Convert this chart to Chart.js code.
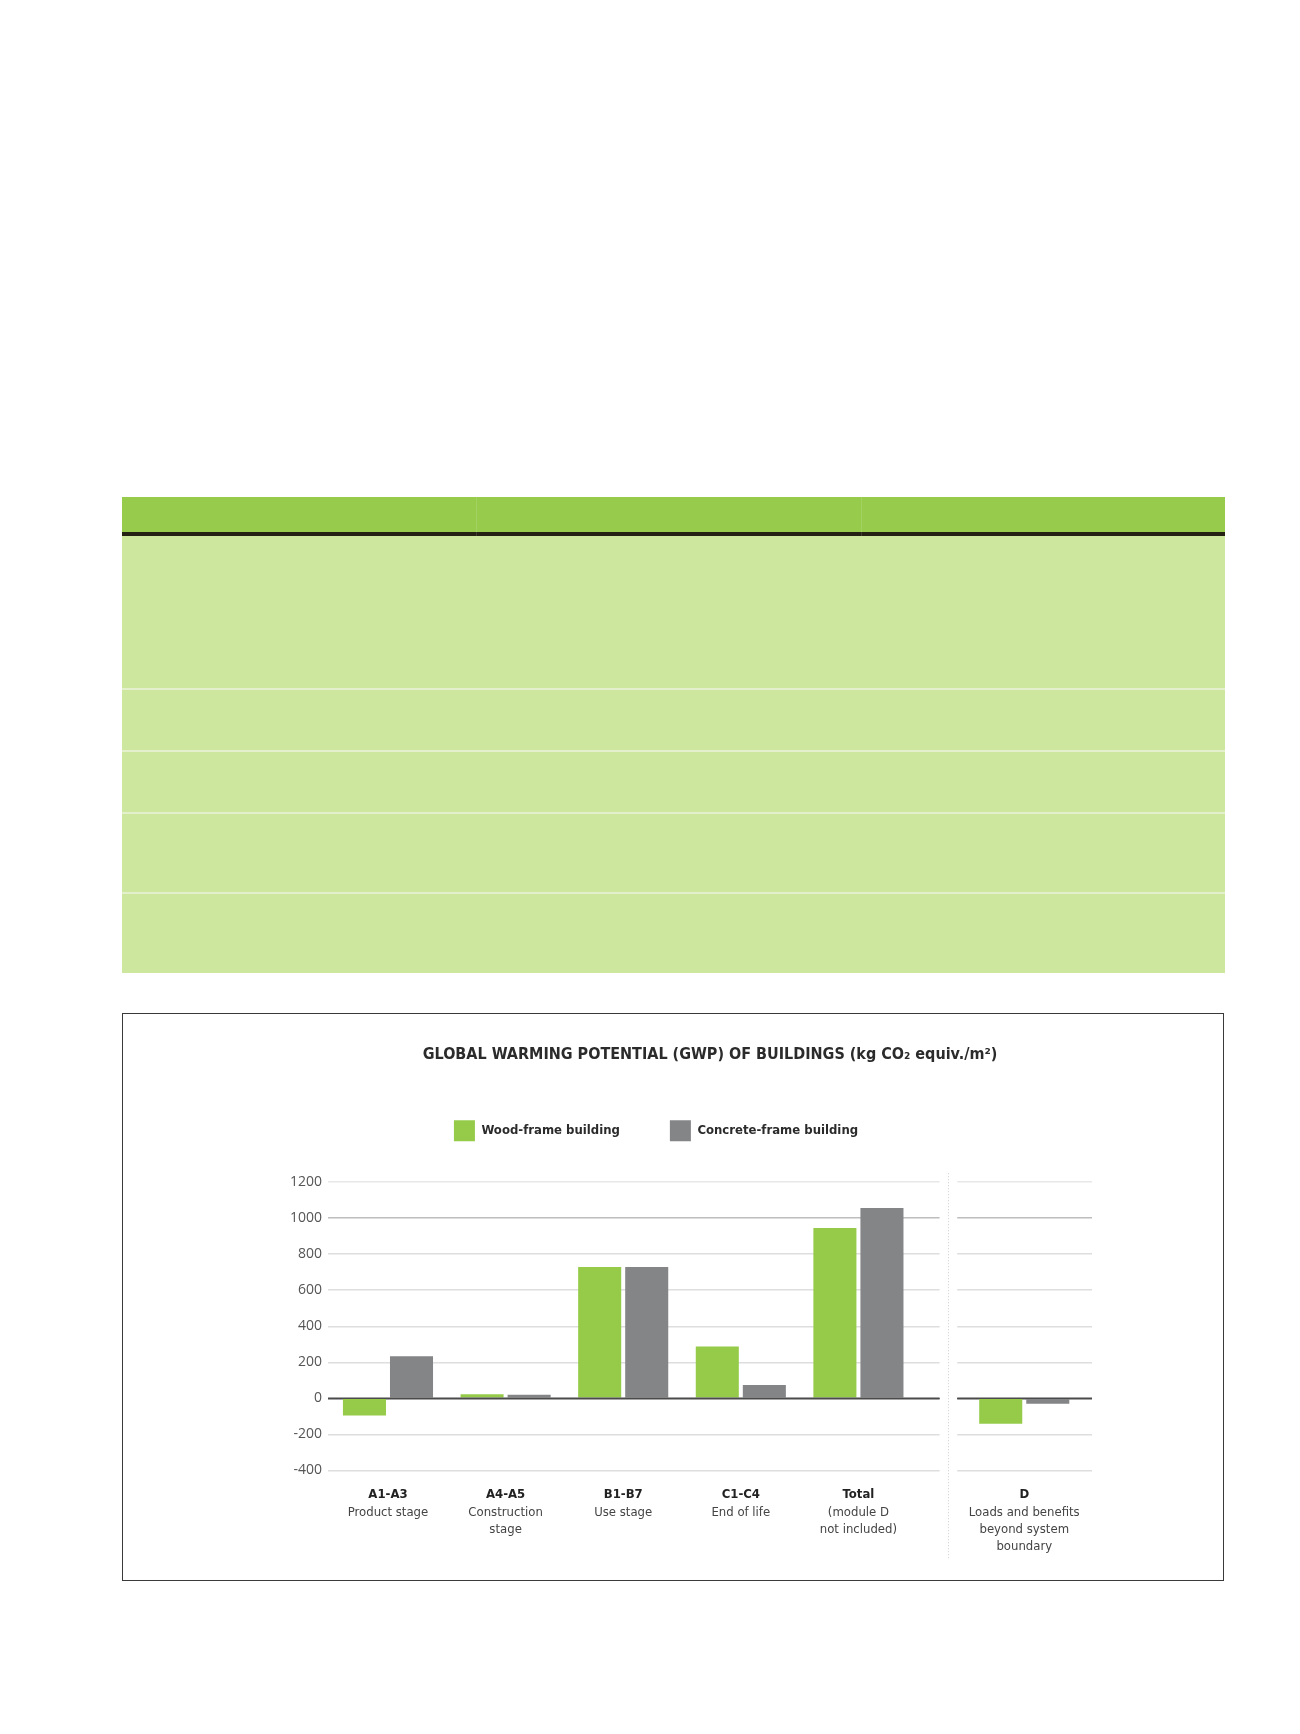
<!DOCTYPE html>
<html>
<head>
<meta charset="utf-8">
<script src="https://cdn.jsdelivr.net/npm/chart.js@4.4.1/dist/chart.umd.min.js"></script>
<style>
  html, body { margin: 0; padding: 0; background: #ffffff; }
  body { width: 1300px; height: 1734px; position: relative; overflow: hidden; }
  .tbl { position: absolute; left: 122px; top: 497px; width: 1103px; height: 476px; background: #cde79e; }
  .tbl .hdr { position: absolute; left: 0; top: 0; width: 100%; height: 35px; background: #96cb4b; }
  .tbl .stripe { position: absolute; left: 0; top: 35px; width: 100%; height: 4px; background: #242014; }
  .tbl .vline { position: absolute; top: 0; width: 1px; height: 39px; background: rgba(255,255,255,0.12); }
  .tbl .sep { position: absolute; left: 0; width: 100%; height: 2px; background: #e3f0cb; }
  .box { position: absolute; left: 122px; top: 1013px; width: 1102px; height: 568px; border: 1px solid #3a3a3a; box-sizing: border-box; background: #fff; }
  .box canvas { position: absolute; left: 0; top: 0; }
</style>
</head>
<body>
<div class="tbl">
  <div class="hdr"></div>
  <div class="stripe"></div>
  <div class="vline" style="left:354px"></div>
  <div class="vline" style="left:739px"></div>
  <div class="sep" style="top:191px"></div>
  <div class="sep" style="top:253px"></div>
  <div class="sep" style="top:315px"></div>
  <div class="sep" style="top:395px"></div>
</div>
<div class="box">
  <canvas id="gwp" width="1100" height="566" style="width:1100px;height:566px"></canvas>
</div>
<script>
// ---------------- data ----------------
const categories = ['A1-A3', 'A4-A5', 'B1-B7', 'C1-C4', 'Total', 'D'];
const categoryDescriptions = [
  ['Product stage'],
  ['Construction', 'stage'],
  ['Use stage'],
  ['End of life'],
  ['(module D', 'not included)'],
  ['Loads and benefits', 'beyond system', 'boundary']
];
const seriesNames = ['Wood-frame building', 'Concrete-frame building'];
const woodFrame = [-96, 23, 729, 287, 946, -141];
const concreteFrame = [233, 20, 729, 74, 1057, -30];
const yTickValues = [-400, -200, 0, 200, 400, 600, 800, 1000, 1200];
const yTickLabels = ['-400', '-200', '0', '200', '400', '600', '800', '1000', '1200'];
const chartTitle = 'GLOBAL WARMING POTENTIAL (GWP) OF BUILDINGS (kg CO\u2082 equiv./m\u00B2)';

// ---------------- layout / style ----------------
const COND = '"Liberation Sans Narrow", "DejaVu Sans Condensed", "Arial Narrow", sans-serif';
const GREEN = '#95cb49';
const GREY = '#848587';
const panelGap = 0.41;          // extra spacing (in category units) before the module D panel
const lastMainIndex = 4;        // 'Total' closes the first panel
const xPos = categories.map((c, i) => i <= lastMainIndex ? i : i + panelGap);
const gapFrom = lastMainIndex + 0.69, gapTo = lastMainIndex + 0.84;

const panelPlugin = {
  id: 'panelPlugin',
  beforeDatasetsDraw(chart) {
    const {ctx, chartArea, scales: {x}} = chart;
    const a = x.getPixelForValue(gapFrom), b = x.getPixelForValue(gapTo);
    ctx.save();
    ctx.fillStyle = '#ffffff';
    ctx.fillRect(a, chartArea.top - 3, b - a, chartArea.bottom - chartArea.top + 6);
    const m = Math.round((a + b) / 2) + 0.5;
    ctx.strokeStyle = '#cfcfcf';
    ctx.lineWidth = 1;
    ctx.setLineDash([1, 2]);
    ctx.beginPath();
    ctx.moveTo(m, chartArea.top - 9);
    ctx.lineTo(m, chartArea.bottom + 88);
    ctx.stroke();
    ctx.restore();
  },
  afterDatasetsDraw(chart) {
    const {ctx, chartArea, scales: {x, y}} = chart;
    const a = x.getPixelForValue(gapFrom), b = x.getPixelForValue(gapTo);
    const y0 = y.getPixelForValue(0);
    ctx.save();
    ctx.strokeStyle = '#4a4a4a';
    ctx.lineWidth = 1.6;
    ctx.beginPath();
    ctx.moveTo(chartArea.left, y0); ctx.lineTo(a, y0);
    ctx.moveTo(b, y0); ctx.lineTo(chartArea.right, y0);
    ctx.stroke();
    ctx.restore();
  }
};

const yAxisWidth = 108;

new Chart(document.getElementById('gwp'), {
  type: 'bar',
  data: {
    datasets: [
      { label: seriesNames[0], data: woodFrame.map((v, i) => ({x: xPos[i], y: v})),
        backgroundColor: GREEN, borderWidth: 0, categoryPercentage: 0.8, barPercentage: 0.915 },
      { label: seriesNames[1], data: concreteFrame.map((v, i) => ({x: xPos[i], y: v})),
        backgroundColor: GREY, borderWidth: 0, categoryPercentage: 0.8, barPercentage: 0.915 }
    ]
  },
  options: {
    responsive: false,
    animation: false,
    layout: { padding: { left: 97, right: 131, top: 0, bottom: 25 } },
    plugins: {
      title: {
        display: true, text: chartTitle, fullSize: false, color: '#2b2b2b', weight: 2000,
        font: { family: COND, size: 16, weight: 'bold', lineHeight: 1.2 },
        padding: { top: 31, bottom: 6 }
      },
      legend: {
        display: true, position: 'top', align: 'center', weight: 1800,
        labels: { boxWidth: 21, boxHeight: 21, padding: 50, color: '#2b2b2b',
                  font: { family: COND, size: 13, weight: 'bold' } }
      },
      subtitle: {
        display: true, text: '', position: 'top', weight: 1500,
        font: { size: 1, lineHeight: 1 },
        padding: { top: 30, bottom: 0 }
      },
      tooltip: { enabled: false }
    },
    scales: {
      x: {
        type: 'linear', position: 'bottom', offset: false, weight: 1,
        min: -0.51, max: 5.986,
        afterBuildTicks: ax => { ax.ticks = xPos.map(v => ({ value: v })); },
        ticks: { autoSkip: false, maxRotation: 0, minRotation: 0, padding: 1, color: '#222',
                 font: { family: COND, size: 13, weight: 'bold', lineHeight: 1.2 },
                 callback: (v, i) => categories[i] },
        grid: { display: false, drawTicks: true, tickLength: 16 }, border: { display: false }
      },
      x2: {
        type: 'linear', axis: 'x', position: 'bottom', offset: false, weight: 2,
        min: -0.51, max: 5.986,
        afterBuildTicks: ax => { ax.ticks = xPos.map(v => ({ value: v })); },
        ticks: { autoSkip: false, maxRotation: 0, minRotation: 0, padding: 0, color: '#444',
                 font: { family: COND, size: 13, lineHeight: 1.31 },
                 callback: (v, i) => categoryDescriptions[i] },
        grid: { display: false, drawTicks: false }, border: { display: false }
      },
      y: {
        min: -400, max: 1200,
        afterBuildTicks: ax => { ax.ticks = yTickValues.map(v => ({ value: v })); },
        afterFit: ax => { ax.width = yAxisWidth; },
        ticks: { padding: 6, color: '#555', font: { family: '"Open Sans", sans-serif', size: 14 },
                 callback: (v, i) => yTickLabels[i] },
        grid: {
          drawTicks: false,
          color: c => c.tick.value === 0 ? '#4a4a4a' : (c.tick.value === 1000 ? '#bdbdbd' : (c.tick.value === 1200 ? '#e8e8e8' : '#dedede')),
          lineWidth: 1.5
        },
        border: { display: false }
      }
    }
  },
  plugins: [panelPlugin]
});
</script>
</body>
</html>
